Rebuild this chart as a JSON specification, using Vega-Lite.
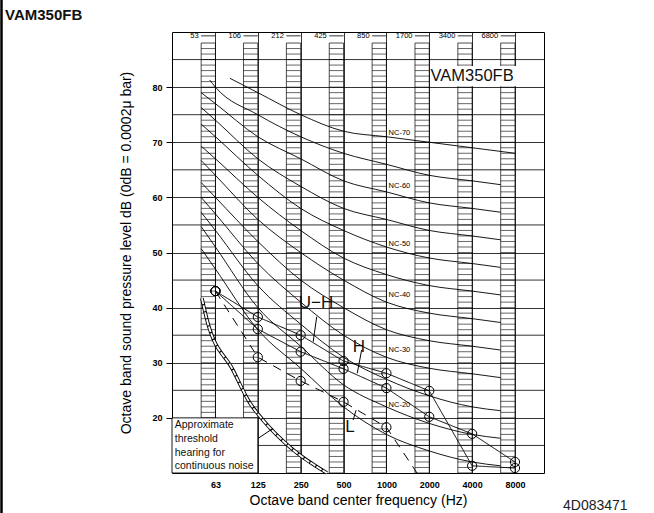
{
  "$schema": "https://vega.github.io/schema/vega-lite/v6.json",
  "width": 372,
  "height": 441,
  "autosize": "none",
  "padding": {"left": 172, "top": 32, "right": 110, "bottom": 40},
  "background": "white",
  "title": {"text": "VAM350FB", "anchor": "start", "frame": "group", "dx": -167, "dy": 32, "offset": 8, "fontSize": 15, "fontWeight": "bold", "font": "Liberation Sans", "color": "#111"},
  "config": {
    "view": {"stroke": "#000", "strokeWidth": 1},
    "font": "Liberation Sans",
    "axis": {"gridColor": "#000", "gridOpacity": 1, "gridWidth": 0.8, "domain": false, "labelColor": "#000", "titleColor": "#000", "titleFontWeight": "normal", "labelOverlap": false}
  },
  "datasets": {
    "nc": [
      {"nc": "NC-70", "hz": 79.6, "db": 81.6}, {"nc": "NC-70", "hz": 125, "db": 79}, {"nc": "NC-70", "hz": 250, "db": 75}, {"nc": "NC-70", "hz": 500, "db": 72}, {"nc": "NC-70", "hz": 1000, "db": 71}, {"nc": "NC-70", "hz": 2000, "db": 70}, {"nc": "NC-70", "hz": 4000, "db": 69}, {"nc": "NC-70", "hz": 8000, "db": 68},
      {"nc": "NC-65", "hz": 57.4, "db": 81.3}, {"nc": "NC-65", "hz": 63, "db": 80}, {"nc": "NC-65", "hz": 125, "db": 75}, {"nc": "NC-65", "hz": 250, "db": 71}, {"nc": "NC-65", "hz": 500, "db": 68}, {"nc": "NC-65", "hz": 1000, "db": 66}, {"nc": "NC-65", "hz": 2000, "db": 64}, {"nc": "NC-65", "hz": 4000, "db": 63}, {"nc": "NC-65", "hz": 6350, "db": 62.3},
      {"nc": "NC-60", "hz": 50, "db": 79}, {"nc": "NC-60", "hz": 63, "db": 77}, {"nc": "NC-60", "hz": 125, "db": 71}, {"nc": "NC-60", "hz": 250, "db": 67}, {"nc": "NC-60", "hz": 500, "db": 63}, {"nc": "NC-60", "hz": 1000, "db": 61}, {"nc": "NC-60", "hz": 2000, "db": 59}, {"nc": "NC-60", "hz": 4000, "db": 58}, {"nc": "NC-60", "hz": 6350, "db": 57.3},
      {"nc": "NC-55", "hz": 50, "db": 76.3}, {"nc": "NC-55", "hz": 63, "db": 74}, {"nc": "NC-55", "hz": 125, "db": 67}, {"nc": "NC-55", "hz": 250, "db": 62}, {"nc": "NC-55", "hz": 500, "db": 58}, {"nc": "NC-55", "hz": 1000, "db": 56}, {"nc": "NC-55", "hz": 2000, "db": 54}, {"nc": "NC-55", "hz": 4000, "db": 53}, {"nc": "NC-55", "hz": 6350, "db": 52.3},
      {"nc": "NC-50", "hz": 50, "db": 73.3}, {"nc": "NC-50", "hz": 63, "db": 71}, {"nc": "NC-50", "hz": 125, "db": 64}, {"nc": "NC-50", "hz": 250, "db": 58}, {"nc": "NC-50", "hz": 500, "db": 54}, {"nc": "NC-50", "hz": 1000, "db": 51}, {"nc": "NC-50", "hz": 2000, "db": 49}, {"nc": "NC-50", "hz": 4000, "db": 48}, {"nc": "NC-50", "hz": 6350, "db": 47.3},
      {"nc": "NC-45", "hz": 50, "db": 69.3}, {"nc": "NC-45", "hz": 63, "db": 67}, {"nc": "NC-45", "hz": 125, "db": 60}, {"nc": "NC-45", "hz": 250, "db": 54}, {"nc": "NC-45", "hz": 500, "db": 49}, {"nc": "NC-45", "hz": 1000, "db": 46}, {"nc": "NC-45", "hz": 2000, "db": 44}, {"nc": "NC-45", "hz": 4000, "db": 43}, {"nc": "NC-45", "hz": 6350, "db": 42.3},
      {"nc": "NC-40", "hz": 50, "db": 66.7}, {"nc": "NC-40", "hz": 63, "db": 64}, {"nc": "NC-40", "hz": 125, "db": 56}, {"nc": "NC-40", "hz": 250, "db": 50}, {"nc": "NC-40", "hz": 500, "db": 45}, {"nc": "NC-40", "hz": 1000, "db": 41}, {"nc": "NC-40", "hz": 2000, "db": 39}, {"nc": "NC-40", "hz": 4000, "db": 38}, {"nc": "NC-40", "hz": 6350, "db": 37.3},
      {"nc": "NC-35", "hz": 50, "db": 62.7}, {"nc": "NC-35", "hz": 63, "db": 60}, {"nc": "NC-35", "hz": 125, "db": 52}, {"nc": "NC-35", "hz": 250, "db": 45}, {"nc": "NC-35", "hz": 500, "db": 40}, {"nc": "NC-35", "hz": 1000, "db": 36}, {"nc": "NC-35", "hz": 2000, "db": 34}, {"nc": "NC-35", "hz": 4000, "db": 33}, {"nc": "NC-35", "hz": 6350, "db": 32.3},
      {"nc": "NC-30", "hz": 50, "db": 60}, {"nc": "NC-30", "hz": 63, "db": 57}, {"nc": "NC-30", "hz": 125, "db": 48}, {"nc": "NC-30", "hz": 250, "db": 41}, {"nc": "NC-30", "hz": 500, "db": 35}, {"nc": "NC-30", "hz": 1000, "db": 31}, {"nc": "NC-30", "hz": 2000, "db": 29}, {"nc": "NC-30", "hz": 4000, "db": 28}, {"nc": "NC-30", "hz": 6350, "db": 27.3},
      {"nc": "NC-25", "hz": 50, "db": 57.3}, {"nc": "NC-25", "hz": 63, "db": 54}, {"nc": "NC-25", "hz": 125, "db": 44}, {"nc": "NC-25", "hz": 250, "db": 37}, {"nc": "NC-25", "hz": 500, "db": 31}, {"nc": "NC-25", "hz": 1000, "db": 27}, {"nc": "NC-25", "hz": 2000, "db": 24}, {"nc": "NC-25", "hz": 4000, "db": 22}, {"nc": "NC-25", "hz": 6350, "db": 21.3},
      {"nc": "NC-20", "hz": 50, "db": 54.7}, {"nc": "NC-20", "hz": 63, "db": 51}, {"nc": "NC-20", "hz": 125, "db": 40}, {"nc": "NC-20", "hz": 250, "db": 33}, {"nc": "NC-20", "hz": 500, "db": 26}, {"nc": "NC-20", "hz": 1000, "db": 22}, {"nc": "NC-20", "hz": 2000, "db": 19}, {"nc": "NC-20", "hz": 4000, "db": 17}, {"nc": "NC-20", "hz": 6350, "db": 16.3},
      {"nc": "NC-15", "hz": 50, "db": 50.7}, {"nc": "NC-15", "hz": 63, "db": 47}, {"nc": "NC-15", "hz": 125, "db": 36}, {"nc": "NC-15", "hz": 250, "db": 29}, {"nc": "NC-15", "hz": 500, "db": 22}, {"nc": "NC-15", "hz": 1000, "db": 17}, {"nc": "NC-15", "hz": 2000, "db": 14}, {"nc": "NC-15", "hz": 4000, "db": 12}, {"nc": "NC-15", "hz": 6350, "db": 11.3}
    ],
    "grid5": [{"db": 15}, {"db": 25}, {"db": 35}, {"db": 45}, {"db": 55}, {"db": 65}, {"db": 75}, {"db": 85}],
    "ladders": [
      {"hz": 63, "lo": 50, "top": 88, "bot": 20, "lab": "53"},
      {"hz": 125, "lo": 99.2, "top": 88, "bot": 20, "lab": "106"},
      {"hz": 250, "lo": 198.4, "top": 88, "bot": 10, "lab": "212"},
      {"hz": 500, "lo": 396.9, "top": 88, "bot": 10, "lab": "425"},
      {"hz": 1000, "lo": 793.7, "top": 88, "bot": 10, "lab": "850"},
      {"hz": 2000, "lo": 1587.4, "top": 88, "bot": 10, "lab": "1700"},
      {"hz": 4000, "lo": 3174.8, "top": 88, "bot": 10, "lab": "3400"},
      {"hz": 8000, "lo": 6349.6, "top": 88, "bot": 10, "lab": "6800"}
    ],
    "rungs": [
      {"db": 11}, {"db": 12}, {"db": 13}, {"db": 14}, {"db": 15}, {"db": 16}, {"db": 17}, {"db": 18}, {"db": 19}, {"db": 20},
      {"db": 21}, {"db": 22}, {"db": 23}, {"db": 24}, {"db": 25}, {"db": 26}, {"db": 27}, {"db": 28}, {"db": 29}, {"db": 30},
      {"db": 31}, {"db": 32}, {"db": 33}, {"db": 34}, {"db": 35}, {"db": 36}, {"db": 37}, {"db": 38}, {"db": 39}, {"db": 40},
      {"db": 41}, {"db": 42}, {"db": 43}, {"db": 44}, {"db": 45}, {"db": 46}, {"db": 47}, {"db": 48}, {"db": 49}, {"db": 50},
      {"db": 51}, {"db": 52}, {"db": 53}, {"db": 54}, {"db": 55}, {"db": 56}, {"db": 57}, {"db": 58}, {"db": 59}, {"db": 60},
      {"db": 61}, {"db": 62}, {"db": 63}, {"db": 64}, {"db": 65}, {"db": 66}, {"db": 67}, {"db": 68}, {"db": 69}, {"db": 70},
      {"db": 71}, {"db": 72}, {"db": 73}, {"db": 74}, {"db": 75}, {"db": 76}, {"db": 77}, {"db": 78}, {"db": 79}, {"db": 80},
      {"db": 81}, {"db": 82}, {"db": 83}, {"db": 84}, {"db": 85}, {"db": 86}, {"db": 87}
    ],
    "meas": [
      {"curve": "U-H", "hz": 63, "db": 43}, {"curve": "U-H", "hz": 125, "db": 38.3}, {"curve": "U-H", "hz": 250, "db": 35.0}, {"curve": "U-H", "hz": 500, "db": 30.3}, {"curve": "U-H", "hz": 1000, "db": 28.1}, {"curve": "U-H", "hz": 2000, "db": 24.9}, {"curve": "U-H", "hz": 4000, "db": 11.3}, {"curve": "U-H", "hz": 8000, "db": 10.9},
      {"curve": "H", "hz": 63, "db": 43}, {"curve": "H", "hz": 125, "db": 36.1}, {"curve": "H", "hz": 250, "db": 32.0}, {"curve": "H", "hz": 500, "db": 28.9}, {"curve": "H", "hz": 1000, "db": 25.4}, {"curve": "H", "hz": 2000, "db": 20.2}, {"curve": "H", "hz": 4000, "db": 17.1}, {"curve": "H", "hz": 8000, "db": 12.0},
      {"curve": "L", "hz": 63, "db": 43}, {"curve": "L", "hz": 125, "db": 31.0}, {"curve": "L", "hz": 250, "db": 26.7}, {"curve": "L", "hz": 500, "db": 22.9}, {"curve": "L", "hz": 1000, "db": 18.3}, {"curve": "L", "hz": 1640, "db": 10}
    ],
    "thr": [
      {"hz": 50.6, "db": 41.7}, {"hz": 54.9, "db": 37.8}, {"hz": 83.5, "db": 28.7}, {"hz": 110, "db": 22.7}, {"hz": 136, "db": 19.6}, {"hz": 210, "db": 14.7}, {"hz": 382, "db": 10}
    ],
    "refs": [
      {"hz": 324, "db": 38.35, "hz2": 306, "db2": 33.8},
      {"hz": 670, "db": 32.3, "hz2": 624, "db2": 28.1},
      {"hz": 584, "db": 19.6, "hz2": 612, "db2": 21.4},
      {"hz": 126, "db": 16.3, "hz2": 160, "db2": 18.1}
    ],
    "curvelabels": [
      {"txt": "U−H", "hz": 320, "db": 40.8},
      {"txt": "H", "hz": 641, "db": 32.9},
      {"txt": "L", "hz": 555, "db": 18.3}
    ],
    "nclabels": [
      {"txt": "NC-70", "hz": 1234, "db": 71.7},
      {"txt": "NC-60", "hz": 1234, "db": 62.1},
      {"txt": "NC-50", "hz": 1234, "db": 51.5},
      {"txt": "NC-40", "hz": 1234, "db": 42.3},
      {"txt": "NC-30", "hz": 1234, "db": 32.3},
      {"txt": "NC-20", "hz": 1234, "db": 22.3}
    ]
  },
  "layer": [
    {
      "data": {"name": "nc"},
      "mark": {"type": "line", "interpolate": "monotone", "color": "#000", "strokeWidth": 0.9},
      "encoding": {
        "x": {"field": "hz", "type": "quantitative", "scale": {"type": "log", "domain": [31.2, 12790], "nice": false},
          "axis": {"values": [63, 125, 250, 500, 1000, 2000, 4000, 8000], "format": "d", "grid": true, "ticks": false, "labelFontSize": 9, "labelFontWeight": "bold", "labelPadding": 7, "labelFlush": false, "title": "Octave band center frequency (Hz)", "titleFontSize": 14, "titlePadding": 4}},
        "y": {"field": "db", "type": "quantitative", "scale": {"domain": [10, 90], "nice": false, "zero": false},
          "axis": {"values": [20, 30, 40, 50, 60, 70, 80], "format": "d", "grid": true, "ticks": true, "tickSize": 6, "tickColor": "#000", "labelFontSize": 9, "labelFontWeight": "bold", "labelPadding": 4, "title": "Octave band sound pressure level dB (0dB = 0.0002μ bar)", "titleFontSize": 14, "titlePadding": 18}},
        "detail": {"field": "nc"}
      }
    },
    {
      "data": {"name": "grid5"},
      "mark": {"type": "rule", "color": "#000", "strokeWidth": 0.8},
      "encoding": {"y": {"field": "db", "type": "quantitative"}}
    },
    {
      "data": {"name": "ladders"},
      "mark": {"type": "rect", "fillOpacity": 0, "stroke": "#000", "strokeWidth": 0.7},
      "encoding": {
        "x": {"field": "lo", "type": "quantitative"}, "x2": {"field": "hz"},
        "y": {"field": "top", "type": "quantitative"}, "y2": {"field": "bot"}
      }
    },
    {"data": {"name": "rungs"}, "transform": [{"filter": "datum.db >= 21"}], "mark": {"type": "rule", "color": "#000", "strokeWidth": 0.6},
      "encoding": {"x": {"datum": 50, "type": "quantitative"}, "x2": {"datum": 63}, "y": {"field": "db", "type": "quantitative"}}},
    {"data": {"name": "rungs"}, "transform": [{"filter": "datum.db >= 21"}], "mark": {"type": "rule", "color": "#000", "strokeWidth": 0.6},
      "encoding": {"x": {"datum": 99.2, "type": "quantitative"}, "x2": {"datum": 125}, "y": {"field": "db", "type": "quantitative"}}},
    {"data": {"name": "rungs"}, "mark": {"type": "rule", "color": "#000", "strokeWidth": 0.6},
      "encoding": {"x": {"datum": 198.4, "type": "quantitative"}, "x2": {"datum": 250}, "y": {"field": "db", "type": "quantitative"}}},
    {"data": {"name": "rungs"}, "mark": {"type": "rule", "color": "#000", "strokeWidth": 0.6},
      "encoding": {"x": {"datum": 396.9, "type": "quantitative"}, "x2": {"datum": 500}, "y": {"field": "db", "type": "quantitative"}}},
    {"data": {"name": "rungs"}, "mark": {"type": "rule", "color": "#000", "strokeWidth": 0.6},
      "encoding": {"x": {"datum": 793.7, "type": "quantitative"}, "x2": {"datum": 1000}, "y": {"field": "db", "type": "quantitative"}}},
    {"data": {"name": "rungs"}, "mark": {"type": "rule", "color": "#000", "strokeWidth": 0.6},
      "encoding": {"x": {"datum": 1587.4, "type": "quantitative"}, "x2": {"datum": 2000}, "y": {"field": "db", "type": "quantitative"}}},
    {"data": {"name": "rungs"}, "mark": {"type": "rule", "color": "#000", "strokeWidth": 0.6},
      "encoding": {"x": {"datum": 3174.8, "type": "quantitative"}, "x2": {"datum": 4000}, "y": {"field": "db", "type": "quantitative"}}},
    {"data": {"name": "rungs"}, "mark": {"type": "rule", "color": "#000", "strokeWidth": 0.6},
      "encoding": {"x": {"datum": 6349.6, "type": "quantitative"}, "x2": {"datum": 8000}, "y": {"field": "db", "type": "quantitative"}}},
    {
      "data": {"name": "ladders"},
      "mark": {"type": "rule", "color": "#000", "strokeWidth": 0.8},
      "encoding": {"x": {"field": "lo", "type": "quantitative"}, "x2": {"field": "hz"}, "y": {"datum": 89.3, "type": "quantitative"}}
    },
    {
      "data": {"name": "ladders"},
      "mark": {"type": "text", "align": "right", "baseline": "middle", "dx": -2.5, "fontSize": 7.5, "color": "#000"},
      "encoding": {"x": {"field": "lo", "type": "quantitative"}, "y": {"datum": 89.3, "type": "quantitative"}, "text": {"field": "lab"}}
    },
    {
      "data": {"values": [{}]},
      "mark": {"type": "rect", "fill": "white", "strokeWidth": 0},
      "encoding": {"x": {"datum": 2080, "type": "quantitative"}, "x2": {"datum": 12400}, "y": {"datum": 83.85, "type": "quantitative"}, "y2": {"datum": 80.15}}
    },
    {
      "data": {"values": [{}]},
      "mark": {"type": "text", "text": "VAM350FB", "align": "center", "baseline": "middle", "fontSize": 16.5, "color": "#111"},
      "encoding": {"x": {"datum": 4000, "type": "quantitative"}, "y": {"datum": 82, "type": "quantitative"}}
    },
    {
      "data": {"name": "thr"},
      "mark": {"type": "line", "interpolate": "monotone", "color": "#000", "strokeWidth": 3.6},
      "encoding": {"x": {"field": "hz", "type": "quantitative"}, "y": {"field": "db", "type": "quantitative"}}
    },
    {
      "data": {"name": "thr"},
      "mark": {"type": "line", "interpolate": "monotone", "color": "white", "strokeWidth": 1.8, "strokeDash": [6, 1.2]},
      "encoding": {"x": {"field": "hz", "type": "quantitative"}, "y": {"field": "db", "type": "quantitative"}}
    },
    {
      "data": {"values": [{}]},
      "mark": {"type": "rect", "fill": "white", "stroke": "#000", "strokeWidth": 0.9},
      "encoding": {"x": {"datum": 31.2, "type": "quantitative"}, "x2": {"datum": 125}, "y": {"datum": 20, "type": "quantitative"}, "y2": {"datum": 10}}
    },
    {
      "data": {"values": [{}]},
      "mark": {"type": "text", "text": ["Approximate", "threshold", "hearing for", "continuous noise"], "align": "left", "baseline": "top", "fontSize": 10.5, "lineHeight": 13.6, "color": "#111"},
      "encoding": {"x": {"datum": 32.6, "type": "quantitative"}, "y": {"datum": 19.55, "type": "quantitative"}}
    },
    {
      "data": {"name": "meas"},
      "mark": {"type": "line", "color": "#000", "strokeWidth": 1},
      "encoding": {
        "x": {"field": "hz", "type": "quantitative"},
        "y": {"field": "db", "type": "quantitative"},
        "detail": {"field": "curve"},
        "strokeDash": {"field": "curve", "type": "nominal", "scale": {"domain": ["U-H", "H", "L"], "range": [[1, 0], [1, 0], [9, 7]]}, "legend": null}
      }
    },
    {
      "data": {"name": "meas"},
      "transform": [{"filter": "datum.db > 10"}],
      "mark": {"type": "point", "filled": false, "size": 85, "stroke": "#000", "strokeWidth": 1, "opacity": 1},
      "encoding": {"x": {"field": "hz", "type": "quantitative"}, "y": {"field": "db", "type": "quantitative"}}
    },
    {
      "data": {"name": "refs"},
      "mark": {"type": "rule", "color": "#000", "strokeWidth": 1},
      "encoding": {"x": {"field": "hz", "type": "quantitative"}, "x2": {"field": "hz2"}, "y": {"field": "db", "type": "quantitative"}, "y2": {"field": "db2"}}
    },
    {
      "data": {"name": "curvelabels"},
      "mark": {"type": "text", "align": "center", "baseline": "middle", "fontSize": 17, "color": "#111"},
      "encoding": {"x": {"field": "hz", "type": "quantitative"}, "y": {"field": "db", "type": "quantitative"}, "text": {"field": "txt"}}
    },
    {
      "data": {"name": "nclabels"},
      "mark": {"type": "text", "align": "center", "baseline": "middle", "fontSize": 7.5, "color": "#000"},
      "encoding": {"x": {"field": "hz", "type": "quantitative"}, "y": {"field": "db", "type": "quantitative"}, "text": {"field": "txt"}}
    },
    {
      "data": {"values": [{}]},
      "mark": {"type": "rule", "color": "#000", "strokeWidth": 2.5},
      "encoding": {"x": {"datum": 1.98, "type": "quantitative"}, "y": {"datum": 95.8, "type": "quantitative"}, "y2": {"datum": 2.74}}
    },
    {
      "data": {"values": [{}]},
      "mark": {"type": "text", "text": "4D083471", "align": "left", "baseline": "alphabetic", "fontSize": 14, "color": "#222"},
      "encoding": {"x": {"datum": 17400, "type": "quantitative"}, "y": {"datum": 3.3, "type": "quantitative"}}
    }
  ]
}
